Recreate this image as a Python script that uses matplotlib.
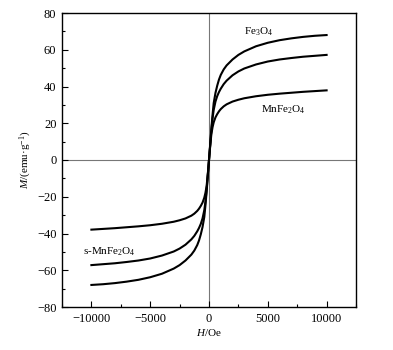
import numpy as np
import matplotlib.pyplot as plt
from matplotlib.ticker import MultipleLocator

plt.rcParams['font.family'] = 'Liberation Serif'
plt.rcParams['mathtext.fontset'] = 'custom'
plt.rcParams['mathtext.rm'] = 'Liberation Serif'
plt.rcParams['mathtext.it'] = 'Liberation Serif:italic'

# field (Oe) and magnetisation (emu/g)
H = [-10000, -9000, -8000, -7000, -6000, -5000, -4000, -3000, -2500, -2000,
     -1500, -1250, -1000, -850, -700, -550, -400, -300, -200, -100,
     0,
     100, 200, 300, 400, 550, 700, 850, 1000, 1250, 1500,
     2000, 2500, 3000, 4000, 5000, 6000, 7000, 8000, 9000, 10000]
M_fe3o4 = [-68.0, -67.6, -67.0, -66.2, -65.2, -63.8, -61.9, -59.1, -57.2, -54.7,
           -51.5, -49.3, -46.3, -43.8, -40.5, -36.5, -31.0, -24.5, -17.0, -8.5,
           0.0,
           8.5, 17.0, 24.5, 31.0, 36.5, 40.5, 43.8, 46.3, 49.3, 51.5,
           54.7, 57.2, 59.1, 61.9, 63.8, 65.2, 66.2, 67.0, 67.6, 68.0]
M_s_mnfe2o4 = [-57.2, -56.7, -56.2, -55.5, -54.7, -53.6, -52.0, -49.8, -48.2, -46.1,
               -43.2, -41.3, -38.8, -37.0, -34.8, -31.8, -27.3, -22.5, -16.0, -8.0,
               0.0,
               8.0, 16.0, 22.5, 27.3, 31.8, 34.8, 37.0, 38.8, 41.3, 43.2,
               46.1, 48.2, 49.8, 52.0, 53.6, 54.7, 55.5, 56.2, 56.7, 57.2]
M_mnfe2o4 = [-37.9, -37.5, -37.1, -36.6, -36.1, -35.5, -34.7, -33.6, -32.8, -31.8,
             -30.3, -29.2, -27.7, -26.5, -25.0, -23.2, -20.5, -17.8, -14.0, -7.5,
             0.0,
             7.5, 14.0, 17.8, 20.5, 23.2, 25.0, 26.5, 27.7, 29.2, 30.3,
             31.8, 32.8, 33.6, 34.7, 35.5, 36.1, 36.6, 37.1, 37.5, 37.9]

fig = plt.figure(figsize=(3.93, 3.5), dpi=100)
ax = fig.add_axes([62/393, 1 - 307/350, 294/393, 294/350])

ax.axhline(0, color='#777777', lw=0.8, zorder=1)
ax.axvline(0, color='#777777', lw=0.8, zorder=1)

for M in (M_fe3o4, M_s_mnfe2o4, M_mnfe2o4):
    ax.plot(H, M, color='black', lw=1.5, zorder=3, solid_joinstyle='round')

ax.text(4200, 70, 'Fe$_3$O$_4$', fontsize=8, ha='center', va='center')
ax.text(6350, 27.5, 'MnFe$_2$O$_4$', fontsize=8, ha='center', va='center')
ax.text(-8500, -50, 's-MnFe$_2$O$_4$', fontsize=8, ha='center', va='center')

ax.set_xlim(-12500, 12500)
ax.set_ylim(-80, 80)
ax.xaxis.set_major_locator(MultipleLocator(5000))
ax.xaxis.set_minor_locator(MultipleLocator(2500))
ax.yaxis.set_major_locator(MultipleLocator(20))
ax.yaxis.set_minor_locator(MultipleLocator(10))
ax.tick_params(which='both', direction='in', labelsize=9, top=False, right=False)
ax.tick_params(which='major', length=4, width=0.8, pad=4)
ax.tick_params(which='minor', length=2, width=0.8)
for s in ax.spines.values():
    s.set_linewidth(1.0)

ax.set_xlabel('$\\mathit{H}$/Oe', fontsize=8, labelpad=2)
ax.set_ylabel('$\\mathit{M}$/(emu·g$^{-1}$)', fontsize=8, labelpad=2)

plt.savefig('out.png', dpi=100)
